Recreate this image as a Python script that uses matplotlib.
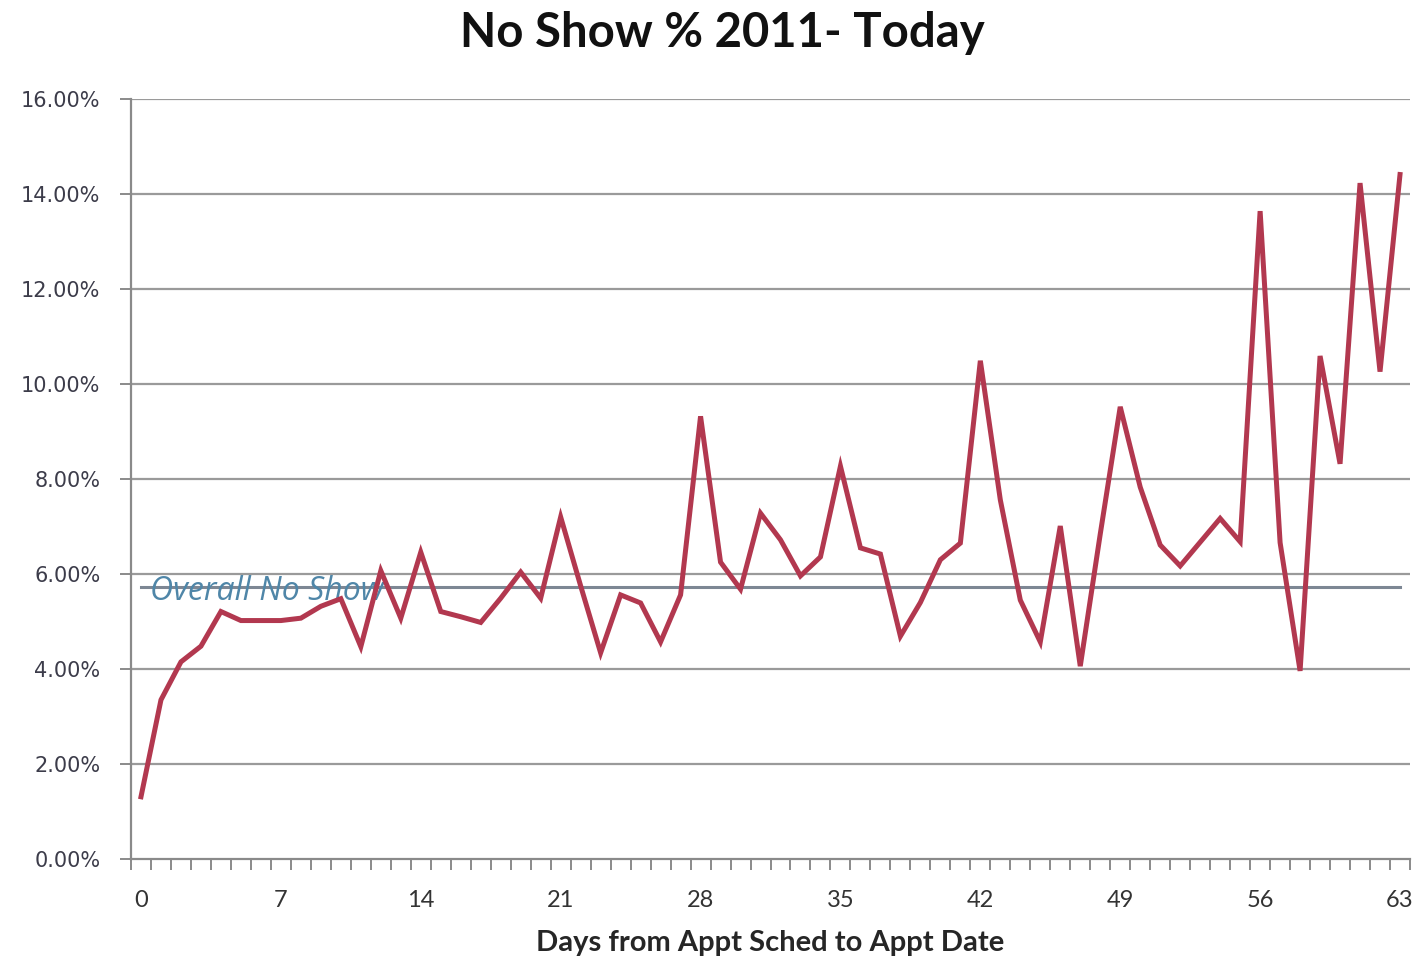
import matplotlib
matplotlib.use("Agg")
import matplotlib.pyplot as plt
import numpy as np
from matplotlib.ticker import FixedLocator

plt.rcParams['font.family'] = ['Lato', 'DejaVu Sans']

title = "No Show % 2011- Today"
xlabel = "Days from Appt Sched to Appt Date"
days = list(range(0, 64))
no_show_pct = [
    1.31, 3.35, 4.15, 4.48, 5.21, 5.02, 5.02, 5.02, 5.07, 5.32,
    5.48, 4.47, 6.07, 5.07, 6.46, 5.21, 5.10, 4.98, 5.49, 6.04,
    5.49, 7.20, 5.75, 4.34, 5.56, 5.39, 4.57, 5.56, 9.32, 6.25,
    5.68, 7.28, 6.72, 5.96, 6.36, 8.27, 6.55, 6.42, 4.69, 5.40,
    6.30, 6.65, 10.49, 7.56, 5.45, 4.57, 7.01, 4.06, 6.84, 9.52,
    7.83, 6.61, 6.17, 6.67, 7.17, 6.68, 13.64, 6.66, 3.96, 10.59,
    8.32, 14.23, 10.26, 14.41,
]
overall_no_show = 5.73
overall_label = "Overall No Show"
y_ticks = [0, 2, 4, 6, 8, 10, 12, 14, 16]
x_label_ticks = [0, 7, 14, 21, 28, 35, 42, 49, 56, 63]

fig = plt.figure(figsize=(14.22, 9.66), dpi=100)
ax = fig.add_axes([131/1422, 1-859/966, (1410-131)/1422, (859-99)/966])

ax.set_xlim(-0.5, 63.5)
ax.set_ylim(0, 16)

for yv in y_ticks[1:]:
    ax.axhline(yv, color='#9a9a9a', lw=1.6, zorder=1)

ax.plot([days[0], days[-1]], [overall_no_show, overall_no_show],
        color='#7d8794', lw=2.2, zorder=2)
ax.text(0.45, overall_no_show - 0.1, overall_label, style='italic',
        color='#4f86a8', fontsize=23, va='center', ha='left', zorder=3,
        family=['Open Sans', 'DejaVu Sans'])

ax.plot(days, no_show_pct, color='#b2384f', lw=3.6, zorder=4,
        solid_joinstyle='miter')

for s in ['top', 'right']:
    ax.spines[s].set_visible(False)
for s in ['left', 'bottom']:
    ax.spines[s].set_color('#8a8a8a')
    ax.spines[s].set_linewidth(1.6)

ax.set_yticks(y_ticks)
ax.set_yticklabels([f"{v:.2f}%" for v in y_ticks], fontsize=15, color='#3c3c4a')
for lab in ax.get_yticklabels():
    lab.set_fontfamily(['DejaVu Sans'])
ax.tick_params(axis='y', length=8, width=1.4, color='#8a8a8a', pad=14)

ax.set_xticks(x_label_ticks)
ax.set_xticklabels([str(v) for v in x_label_ticks], fontsize=17, color='#333333')
ax.xaxis.set_minor_locator(FixedLocator(np.arange(-0.5, 64, 1)))
ax.tick_params(axis='x', which='major', length=0, pad=22)
ax.tick_params(axis='x', which='minor', length=8, width=1.4, color='#8a8a8a')

ax.set_xlabel(xlabel, fontsize=21, fontweight='bold', color='#262626', labelpad=14)
fig.text(722/1422, 1-33/966, title, fontsize=34, fontweight='bold',
         ha='center', va='center', color='#111111')

fig.savefig("out.png", dpi=100, facecolor='white')
